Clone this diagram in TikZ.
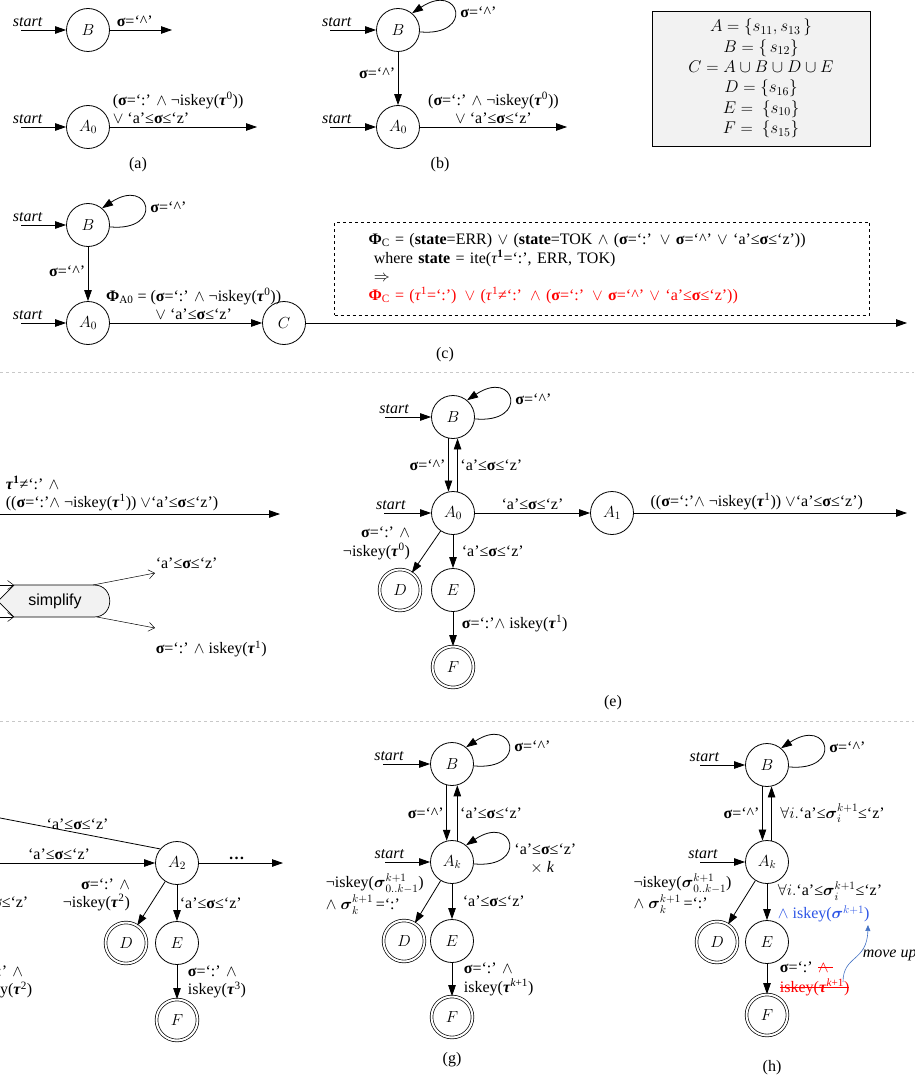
\RequirePackage{fix-cm}
\documentclass[tikz,border=0pt]{standalone}
\usepackage{amsmath}
\usepackage{fontspec}
\setmainfont{Liberation Serif}
\setsansfont{Liberation Sans}
\usetikzlibrary{arrows.meta,positioning}
\definecolor{boxgray}{RGB}{242,242,242}
\definecolor{sepgray}{RGB}{200,200,200}
\definecolor{upblue}{RGB}{68,114,196}
\definecolor{txtblue}{RGB}{45,85,230}
\tikzstyle{st}=[draw, circle, minimum size=43pt, inner sep=0pt, line width=0.8pt]
\tikzstyle{fin}=[draw, circle, minimum size=41pt, inner sep=0pt, line width=0.7pt, double, double distance=2pt]
\tikzstyle{go}=[->, line width=0.8pt]
\tikzstyle{thingo}=[-{Straight Barb[length=6pt,width=9pt]}, line width=0.5pt]
\tikzstyle{sep}=[sepgray, dashed, line width=0.5pt]
\newcommand{\sg}{\textbf{σ}}
\newcommand{\tb}{\textbf{\textit{τ}}}
\newcommand{\caret}{‘\textasciicircum’}
\newcommand{\andd}{$\wedge$}
\newcommand{\orr}{$\vee$}
\newcommand{\azr}{‘a’≤\sg≤‘z’}
\newsavebox{\strkbox}
\newcommand{\strk}[1]{\sbox{\strkbox}{#1}\rlap{\rule[0.28em]{\wd\strkbox}{0.7pt}}\usebox{\strkbox}}
\begin{document}
\begin{tikzpicture}[x=1pt,y=-1pt,>={Triangle[length=11pt,width=7.5pt]},inner sep=2.5pt,font=\fontsize{16}{18.5}\selectfont]
    \path[use as bounding box, fill=white] (0,0) rectangle (914,1078);
    % (a)
    \node [st] (Ba) at (88,30) {$B$};
    \node [st] (A0a) at (88,127) {$A_0$};
    \coordinate (sBa) at (21,30);
    \coordinate (sAa) at (21,127);
    \coordinate (oBa) at (172,30);
    \coordinate (oAa) at (257,127);
    \draw[go] (sBa) -- node[above, pos=.15] {\textit{start}} (Ba);
    \draw[go] (sAa) -- node[above, pos=.15] {\textit{start}} (A0a);
    \draw[go] (Ba) -- node[above, pos=.4] {\sg=\caret} (oBa);
    \draw[go] (A0a) -- node[above right, pos=0, align=left] {(\sg=‘:’ \andd{} ¬iskey(\tb\textsuperscript{0}))\\\orr{} \azr} (oAa);
    \node (capa) at (138,165) {(a)};
    % (b)
    \node [st] (Bb) at (398,30) {$B$};
    \node [st] (A0b) at (398,127) {$A_0$};
    \coordinate (sBb) at (330,30);
    \coordinate (sAb) at (330,127);
    \coordinate (oAb) at (567,127);
    \draw[go] (sBb) -- node[above, pos=.15] {\textit{start}} (Bb);
    \draw[go] (sAb) -- node[above, pos=.15] {\textit{start}} (A0b);
    \draw[go] (Bb.-5) .. controls +(55,5) and +(48,-32) .. (Bb.50) node[pos=.5, right, xshift=3pt] {\sg=\caret};
    \draw[go] (Bb) -- node[left, pos=.4] {\sg=\caret} (A0b);
    \draw[go] (A0b) -- node[above, align=center] {(\sg=‘:’ \andd{} ¬iskey(\tb\textsuperscript{0}))\\\orr{} \azr} (oAb);
    \node (capb) at (440,165) {(b)};
    % sets
    \node [draw, fill=boxgray, line width=0.8pt, minimum width=218pt, minimum height=135pt, align=center, inner sep=0pt, font=\fontsize{17}{20.4}\selectfont] (sets) at (761,78.5)
      {$A=\{s_{11},s_{13}\,\}$\\$B=\{\,s_{12}\}$\\$C=A\cup B\cup D\cup E$\\$D=\{s_{16}\}$\\$E=\ \{s_{10}\}$\\$F=\ \{s_{15}\}$};
    % (c)
    \node [st] (Bc) at (88,225) {$B$};
    \node [st] (A0c) at (88,323) {$A_0$};
    \node [st] (Cc) at (284,323) {$C$};
    \coordinate (sBc) at (21,225);
    \coordinate (sAc) at (21,323);
    \coordinate (oCc) at (907,323);
    \draw[go] (sBc) -- node[above, pos=.15] {\textit{start}} (Bc);
    \draw[go] (sAc) -- node[above, pos=.15] {\textit{start}} (A0c);
    \draw[go] (Bc.-5) .. controls +(55,5) and +(48,-32) .. (Bc.50) node[pos=.5, right, xshift=3pt] {\sg=\caret};
    \draw[go] (Bc) -- node[left, pos=.45] {\sg=\caret} (A0c);
    \draw[go] (A0c) -- node[above, pos=.55, align=center] {\textbf{Φ}\textsubscript{A0} = (\sg=‘:’ \andd{} ¬iskey(\tb\textsuperscript{0}))\\\orr{} \azr} (Cc);
    \draw[go] (Cc) -- (oCc);
    \node [draw, dashed, line width=0.5pt, inner xsep=34pt, text width=467pt, minimum height=93pt, align=left] (phi) at (602,268.5)
      {\textbf{Φ}\textsubscript{C} = (\textbf{state}=ERR) \orr{} (\textbf{state}=TOK \andd{} (\sg=‘:’ \orr{} \sg=\caret{} \orr{} \azr))\\
       \ where \textbf{state} = ite(\textit{τ}\textsuperscript{\textbf{1}}=‘:’, ERR, TOK)\\
       \ $\Rightarrow$\\
       \textcolor{red}{\textbf{Φ}\textsubscript{C} = (\textit{τ}\textsuperscript{1}=‘:’) \orr{} (\textit{τ}\textsuperscript{1}≠‘:’ \andd{} (\sg=‘:’ \orr{} \sg=\caret{} \orr{} \azr))}};
    \node (capc) at (445,355) {(c)};
    \draw[sep] (0,372) -- (914,372);
    \draw[sep] (0,721) -- (914,721);
    % (d)
    \coordinate (dL) at (-5,514);
    \coordinate (dR) at (280,514);
    \draw[go] (dL) -- node[pos=0, anchor=south west, xshift=8pt, align=left] {\tb\textsuperscript{\textbf{1}}≠‘:’ \andd\\((\sg=‘:’\andd{} ¬iskey(\tb\textsuperscript{1})) \orr‘a’≤\sg≤‘z’)} (dR);
    \filldraw[fill=boxgray, line width=0.7pt] (14,585) -- (94,585) .. controls (115,585) and (115,617) .. (94,617) -- (14,617) -- (-2,601) -- cycle;
    \node [font=\sffamily\fontsize{16}{18}\selectfont] (simp) at (55,601) {simplify};
    \coordinate (iT) at (-12,585);
    \coordinate (iB) at (-12,617);
    \coordinate (sTL) at (14,585);
    \coordinate (sBL) at (14,617);
    \coordinate (sTR) at (93,585);
    \coordinate (sBR) at (97,617);
    \coordinate (oT) at (155,573);
    \coordinate (oB) at (155,628);
    \draw[thingo] (iT) -- (sTL);
    \draw[thingo] (iB) -- (sBL);
    \draw[thingo] (sTR) -- (oT) node[anchor=south west, xshift=-2pt, yshift=2pt] {\azr};
    \draw[thingo] (sBR) -- (oB) node[anchor=north west, xshift=-2pt, yshift=-10pt] {\sg=‘:’ \andd{} iskey(\tb\textsuperscript{1})};
    % (e)
    \node [st] (Be) at (453,417) {$B$};
    \node [st] (A0e) at (453,513) {$A_0$};
    \node [st] (A1e) at (612,513) {$A_1$};
    \node [fin] (De) at (400,590) {$D$};
    \node [st] (Ee) at (453,590) {$E$};
    \node [fin] (Fe) at (453,667) {$F$};
    \coordinate (sBe) at (385,417);
    \coordinate (sAe) at (384,513);
    \coordinate (oAe) at (907,513);
    \draw[go] (sBe) -- node[above, pos=.2] {\textit{start}} (Be);
    \draw[go] (sAe) -- node[above, pos=.15] {\textit{start}} (A0e);
    \draw[go] (Be.-5) .. controls +(55,5) and +(48,-32) .. (Be.50) node[pos=.5, right, xshift=3pt] {\sg=\caret};
    \draw[go] (Be.258) -- node[left] {\sg=\caret} (A0e.102);
    \draw[go] (A0e.78) -- node[right] {\azr} (Be.282);
    \draw[go] (A0e) -- node[above] {\azr} (A1e);
    \draw[go] (A1e) -- node[above, pos=.45] {((\sg=‘:’\andd{} ¬iskey(\tb\textsuperscript{1})) \orr‘a’≤\sg≤‘z’)} (oAe);
    \draw[go] (A0e) -- node[left=19pt, pos=.3, align=right] {\sg=‘:’ \andd\\¬iskey(\tb\textsuperscript{0})} (De);
    \draw[go] (A0e) -- node[right, xshift=6pt] {\azr} (Ee);
    \draw[go] (Ee) -- node[right, pos=.35, xshift=6pt] {\sg=‘:’\andd{} iskey(\tb\textsuperscript{1})} (Fe);
    \node (cape) at (613,703) {(e)};
    % (f)
    \node [st] (A2f) at (177,863) {$A_2$};
    \node [fin] (Df) at (126,943) {$D$};
    \node [st] (Ef) at (177,943) {$E$};
    \node [fin] (Ff) at (177,1020) {$F$};
    \coordinate (fU) at (-5,817);
    \coordinate (fL) at (-5,863);
    \coordinate (fR) at (283,863);
    \draw[line width=0.8pt] (fU) -- node[above, pos=.5] {\azr} (A2f.140);
    \draw[go] (fL) -- node[above, pos=.4] {\azr} (A2f);
    \draw[go] (A2f) -- node[above, pos=.45] {\textbf{…}} (fR);
    \draw[go] (A2f) -- node[left=24pt, pos=.3, align=right] {\sg=‘:’ \andd\\¬iskey(\tb\textsuperscript{2})} (Df);
    \draw[go] (A2f) -- node[right] {\azr} (Ef);
    \draw[go] (Ef) -- node[right, align=left, xshift=8pt] {\sg=‘:’ \andd\\iskey(\tb\textsuperscript{3})} (Ff);
    \node [anchor=east] (pz) at (31,902) {\azr};
    \node [anchor=east, align=left] (pk) at (35,982) {\sg=‘:’ \andd\\iskey(\tb\textsuperscript{2})};
    % (g)
    \node [st] (Bg) at (452,764) {$B$};
    \node [st] (Akg) at (452,862) {$A_k$};
    \node [fin] (Dg) at (404,941) {$D$};
    \node [st] (Eg) at (452,941) {$E$};
    \node [fin] (Fg) at (452,1017) {$F$};
    \coordinate (sBg) at (383,764);
    \coordinate (sAg) at (385,862);
    \draw[go] (sBg) -- node[above, pos=.13] {\textit{start}} (Bg);
    \draw[go] (sAg) -- node[above, pos=.1] {\textit{start}} (Akg);
    \draw[go] (Bg.-5) .. controls +(55,5) and +(48,-32) .. (Bg.50) node[pos=.5, right, xshift=3pt] {\sg=\caret};
    \draw[go] (Akg.-5) .. controls +(55,5) and +(48,-32) .. (Akg.50) node[pos=.5, anchor=north west, xshift=3pt, yshift=4pt, align=left] {\azr\\\hspace*{1em}$\times$ \textit{k}};
    \draw[go] (Bg.256) -- node[left] {\sg=\caret} (Akg.104);
    \draw[go] (Akg.76) -- node[right] {\azr} (Bg.284);
    \draw[go] (Akg) -- node[pos=0, anchor=north east, xshift=-14pt, yshift=10pt, align=left] {¬iskey($\boldsymbol{\sigma}^{k+1}_{0..k-1}$)\\\andd{} $\boldsymbol{\sigma}^{k+1}_{k}$\,=‘:’} (Dg);
    \draw[go] (Akg) -- node[right, xshift=8pt] {\azr} (Eg);
    \draw[go] (Eg) -- node[right, align=left, xshift=9pt] {\sg=‘:’ \andd\\iskey(\tb\textsuperscript{\textit{k}+1})} (Fg);
    \node (capg) at (452,1060) {(g)};
    % (h)
    \node [st] (Bh) at (767,765) {$B$};
    \node [st] (Akh) at (767,862) {$A_k$};
    \node [fin] (Dh) at (717,942) {$D$};
    \node [st] (Eh) at (767,942) {$E$};
    \node [fin] (Fh) at (767,1015) {$F$};
    \coordinate (sBh) at (700,765);
    \coordinate (sAh) at (700,862);
    \coordinate (mu0) at (843,982);
    \coordinate (mu1) at (868,925);
    \draw[go] (sBh) -- node[above, pos=.1] {\textit{start}} (Bh);
    \draw[go] (sAh) -- node[above, pos=.07] {\textit{start}} (Akh);
    \draw[go] (Bh.-5) .. controls +(55,5) and +(48,-32) .. (Bh.50) node[pos=.5, right, xshift=3pt] {\sg=\caret};
    \draw[go] (Bh.258) -- node[left] {\sg=\caret} (Akh.102);
    \draw[go] (Akh.78) -- node[right, xshift=6pt] {$\forall i.$‘a’≤$\boldsymbol{\sigma}_i^{k+1}$≤‘z’} (Bh.282);
    \draw[go] (Akh) -- node[pos=0, anchor=north east, xshift=-21pt, yshift=10pt, align=left] {¬iskey($\boldsymbol{\sigma}^{k+1}_{0..k-1}$)\\\andd{} $\boldsymbol{\sigma}^{k+1}_{k}$\,=‘:’} (Dh);
    \draw[go] (Akh) -- node[right, align=left, xshift=8pt, font=\fontsize{16}{23}\selectfont] {$\forall i.$‘a’≤$\boldsymbol{\sigma}_i^{k+1}$≤‘z’\\\textcolor{txtblue}{\andd{} iskey($\boldsymbol{\sigma}^{k+1}$)}} (Eh);
    \draw[go] (Eh) -- node[right, align=left, xshift=10pt, font=\fontsize{16}{20}\selectfont] {\sg=‘:’ \textcolor{red}{\strk{\andd\ }}\\\textcolor{red}{\strk{iskey(\tb\textsuperscript{\textit{k}+1})}}} (Fh);
    \draw[upblue, line width=0.6pt, -{Triangle[length=6pt,width=5pt]}] (mu0) .. controls (843,955) and (867,962) .. (mu1) node[pos=.55, right, xshift=3pt, text=black] {\textit{move up}};
    \node (caph) at (772,1068) {(h)};
\end{tikzpicture}
\end{document}
